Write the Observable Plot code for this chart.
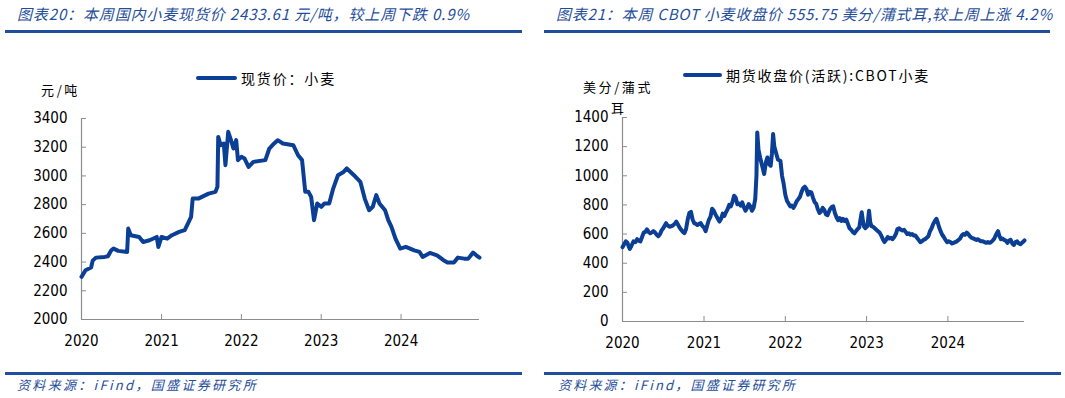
<!DOCTYPE html>
<html><head><meta charset="utf-8">
<script src="https://cdn.jsdelivr.net/npm/d3@7"></script>
<script src="https://cdn.jsdelivr.net/npm/@observablehq/plot@0.6"></script>
<style>
body{margin:0;background:#fff;width:1065px;height:398px;overflow:hidden;position:relative;font-family:"Noto Sans CJK SC",sans-serif;}
.abs{position:absolute;white-space:nowrap;line-height:1;}
.title{color:#1f4e9a;font-style:italic;font-size:15px;}
.foot{color:#1f4e9a;font-style:italic;font-size:13px;}
.bar{position:absolute;background:#1f4e9a;}
.leg{font-size:14px;color:#000;}
.unit{font-size:13px;color:#000;}
.sw{position:absolute;height:4px;background:#0b3f95;border-radius:2px;}
.chart{position:absolute;}
</style></head>
<body>
<div class="abs title" id="t1" style="left:17px;top:6px;">图表20：本周国内小麦现货价 2433.61 元/吨，较上周下跌 0.9%</div>
<div class="abs title" id="t2" style="left:556px;top:6px;">图表21：本周 CBOT 小麦收盘价 555.75 美分/蒲式耳,较上周上涨 4.2%</div>
<div class="bar" style="left:5px;top:30px;width:517px;height:3px;"></div>
<div class="bar" style="left:544px;top:30px;width:506px;height:3px;"></div>

<div class="sw" style="left:196px;top:76px;width:41px;"></div>
<div class="abs leg" id="l1" style="left:241px;top:71px;">现货价：小麦</div>
<div class="sw" style="left:683px;top:73px;width:39px;"></div>
<div class="abs leg" id="l2" style="left:726px;top:68px;">期货收盘价(活跃):CBOT小麦</div>

<div class="abs unit" id="u1" style="left:41px;top:83px;">元/吨</div>
<div class="abs unit" id="u2" style="left:583px;top:80px;">美分/蒲式</div>
<div class="abs unit" id="u3" style="left:611px;top:101px;">耳</div>

<div class="chart" id="c1" style="left:0px;top:100px;"></div>
<div class="chart" id="c2" style="left:530px;top:100px;"></div>

<div class="bar" style="left:5px;top:372px;width:517px;height:2.5px;"></div>
<div class="bar" style="left:544px;top:372px;width:517px;height:2.5px;"></div>
<div class="abs foot" id="f1" style="left:17px;top:378px;">资料来源：iFind，国盛证券研究所</div>
<div class="abs foot" id="f2" style="left:558px;top:378px;">资料来源：iFind，国盛证券研究所</div>

<script>
// ---- Data ----
const yearTicks = ["2020","2021","2022","2023","2024"];

// Domestic wheat spot price (元/吨); time as decimal year
const spotT = [2020.00,2020.05,2020.12,2020.14,2020.18,2020.29,2020.33,2020.37,2020.40,2020.46,2020.57,2020.584,2020.615,2020.72,2020.77,2020.85,2020.94,2020.96,2021.00,2021.07,2021.13,2021.22,2021.29,2021.33,2021.37,2021.39,2021.46,2021.55,2021.59,2021.675,2021.70,2021.71,2021.74,2021.78,2021.80,2021.835,2021.87,2021.90,2021.935,2021.957,2022.00,2022.04,2022.09,2022.15,2022.30,2022.35,2022.41,2022.455,2022.52,2022.65,2022.71,2022.76,2022.80,2022.84,2022.874,2022.91,2022.95,2023.00,2023.04,2023.10,2023.15,2023.21,2023.28,2023.32,2023.41,2023.49,2023.545,2023.60,2023.645,2023.69,2023.73,2023.80,2023.84,2023.88,2023.93,2023.99,2024.06,2024.165,2024.23,2024.27,2024.36,2024.45,2024.53,2024.58,2024.66,2024.71,2024.79,2024.84,2024.90,2024.94,2024.98];
const spotV = [2297,2343,2362,2410,2431,2436,2440,2480,2494,2478,2470,2633,2587,2575,2540,2552,2575,2505,2575,2563,2587,2610,2622,2668,2715,2842,2842,2866,2877,2889,2924,3272,3214,3226,3075,3307,3249,3191,3249,3110,3133,3121,3063,3098,3110,3191,3226,3249,3226,3214,3144,3110,2889,2889,2854,2692,2808,2785,2808,2808,2912,3005,3028,3052,3005,2959,2842,2761,2785,2866,2808,2761,2692,2645,2564,2494,2506,2482,2471,2436,2464,2447,2413,2397,2397,2431,2424,2424,2466,2447,2431];
const spotTicks = [2000,2200,2400,2600,2800,3000,3200,3400];

// CBOT wheat active futures close (美分/蒲式耳): [fraction of year, value]
const cbot2020 = [[0.00,510],[0.02,530],[0.04,550],[0.06,540],[0.08,510],[0.09,498],[0.11,520],[0.135,550],[0.16,545],[0.18,565],[0.20,555],[0.22,550],[0.24,580],[0.26,610],[0.28,615],[0.30,632],[0.32,615],[0.34,605],[0.36,612],[0.38,620],[0.40,610],[0.42,595],[0.44,585],[0.46,600],[0.48,625],[0.50,640],[0.52,660],[0.535,675],[0.55,660],[0.58,650],[0.60,655],[0.62,660],[0.64,670],[0.66,685],[0.68,665],[0.70,645],[0.72,630],[0.74,615],[0.76,607],[0.78,635],[0.80,700],[0.82,745],[0.84,752],[0.86,700],[0.88,675],[0.90,670],[0.92,662],[0.94,670],[0.96,675],[0.98,655]];
const cbot2021 = [[0.00,645],[0.02,620],[0.04,660],[0.06,698],[0.08,720],[0.10,774],[0.12,760],[0.14,735],[0.16,715],[0.19,686],[0.21,705],[0.23,740],[0.25,725],[0.27,750],[0.29,770],[0.31,800],[0.33,790],[0.35,820],[0.37,863],[0.39,850],[0.41,805],[0.43,810],[0.45,795],[0.47,818],[0.49,785],[0.51,760],[0.53,780],[0.55,806],[0.57,790],[0.59,760],[0.61,780],[0.63,840],[0.645,1000],[0.655,1297],[0.67,1180],[0.69,1126],[0.71,1080],[0.74,1012],[0.76,1090],[0.78,1126],[0.80,1080],[0.82,1069],[0.835,1150],[0.85,1286],[0.865,1200],[0.89,1149],[0.91,1110],[0.94,1103],[0.96,1000],[0.98,944]];
const cbot2022 = [[0.00,870],[0.02,829],[0.04,810],[0.06,790],[0.08,795],[0.10,780],[0.12,800],[0.14,825],[0.16,840],[0.18,856],[0.20,890],[0.22,915],[0.24,925],[0.26,910],[0.28,870],[0.30,890],[0.32,886],[0.34,850],[0.36,820],[0.38,808],[0.40,770],[0.42,745],[0.44,755],[0.46,780],[0.48,765],[0.50,735],[0.52,730],[0.53,745],[0.55,770],[0.57,785],[0.59,790],[0.61,745],[0.63,715],[0.65,695],[0.67,710],[0.69,690],[0.71,705],[0.73,690],[0.75,700],[0.77,670],[0.79,640],[0.81,630],[0.83,615],[0.85,605],[0.87,620],[0.89,635],[0.91,645],[0.925,700],[0.94,750],[0.955,690],[0.97,650],[0.985,640]];
const cbot2023 = [[0.01,655],[0.03,760],[0.045,680],[0.06,655],[0.08,650],[0.10,640],[0.12,630],[0.14,620],[0.16,610],[0.18,590],[0.20,565],[0.22,545],[0.24,560],[0.26,580],[0.28,570],[0.30,575],[0.32,565],[0.34,580],[0.36,600],[0.38,635],[0.40,640],[0.42,630],[0.44,625],[0.46,630],[0.48,615],[0.50,600],[0.52,605],[0.54,595],[0.56,600],[0.58,590],[0.60,590],[0.62,575],[0.64,560],[0.66,545],[0.68,550],[0.70,560],[0.72,565],[0.74,575],[0.76,585],[0.78,620],[0.80,640],[0.82,670],[0.84,690],[0.86,705],[0.875,680],[0.89,650],[0.91,620],[0.93,595],[0.95,580],[0.97,560],[0.99,545]];
const cbot2024 = [[0.01,550],[0.03,545],[0.05,535],[0.07,540],[0.09,545],[0.11,550],[0.13,560],[0.15,570],[0.17,590],[0.19,600],[0.21,595],[0.23,610],[0.25,600],[0.27,585],[0.29,575],[0.31,570],[0.33,565],[0.35,560],[0.37,565],[0.39,555],[0.41,550],[0.43,550],[0.45,545],[0.47,540],[0.49,545],[0.51,540],[0.53,545],[0.55,555],[0.57,570],[0.59,595],[0.615,620],[0.63,590],[0.65,565],[0.67,570],[0.69,560],[0.71,555],[0.73,540],[0.75,555],[0.77,560],[0.79,535],[0.81,525],[0.83,545],[0.85,550],[0.87,535],[0.89,530],[0.91,540],[0.93,550],[0.94,556]];
const cbotTicks = [0,200,400,600,800,1000,1200,1400];

// ---- helpers ----
function toDate(t){const y=Math.floor(t),f=t-y;const s=Date.UTC(y,0,1),e=Date.UTC(y+1,0,1);return new Date(s+f*(e-s));}
const xTickDates = yearTicks.map(y=>new Date(Date.UTC(+y,0,1)));
const spot = spotT.map((t,i)=>({date:toDate(t),value:spotV[i]}));
const cbot = [[2020,cbot2020],[2021,cbot2021],[2022,cbot2022],[2023,cbot2023],[2024,cbot2024]]
  .flatMap(([y,arr])=>arr.map(([f,v])=>({date:toDate(y+f),value:v})));

const AX = "#8c8c8c", LINE = "#0b3f95";
const FONT = "'DejaVu Sans Condensed','Liberation Sans',sans-serif";

function chart(data, yTicks, xEnd, w, ml, mr, mt, mb){
  const yDom=[yTicks[0],yTicks[yTicks.length-1]];
  const x0=toDate(2020.0);
  return Plot.plot({
    width:w, height:260, marginLeft:ml, marginRight:mr, marginTop:mt, marginBottom:mb,
    style:{fontFamily:FONT,fontSize:"15px",color:"#000",background:"transparent"},
    x:{type:"utc",domain:[x0,toDate(xEnd)],label:null},
    y:{domain:yDom,label:null},
    marks:[
      Plot.axisY({ticks:yTicks,tickSize:0,tickPadding:14,tickFormat:"d",label:null,fill:"#000",fontSize:15}),
      Plot.axisY({ticks:yTicks,tickSize:5,dx:5,label:null,fill:"none",stroke:AX}),
      Plot.axisX({ticks:xTickDates,tickSize:0,tickPadding:16,tickFormat:"%Y",label:null,fill:"#000",fontSize:15}),
      Plot.axisX({ticks:xTickDates,tickSize:5,dy:-5,label:null,fill:"none",stroke:AX}),
      Plot.ruleX([x0],{stroke:AX,strokeWidth:1.2}),
      Plot.ruleY([yDom[0]],{stroke:AX,strokeWidth:1.2}),
      Plot.line(data,{x:"date",y:"value",stroke:LINE,strokeWidth:4,strokeLinejoin:"round",strokeLinecap:"round"})
    ]
  });
}

document.getElementById("c1").append(chart(spot, spotTicks, 2024.98, 530, 81, 51, 18, 41));
document.getElementById("c2").append(chart(cbot, cbotTicks, 2024.94, 535, 92, 41, 17, 39));

// fit texts to measured widths of the reference
function fit(id, target){
  const el=document.getElementById(id);
  const w=el.getBoundingClientRect().width;
  const n=[...el.textContent].length;
  el.style.letterSpacing=((target-w)/n)+"px";
}
fit("t1",453); fit("t2",497);
fit("l1",95); fit("l2",204);
fit("u1",39); fit("u2",70);
fit("f1",241); fit("f2",239);
</script>
</body></html>
